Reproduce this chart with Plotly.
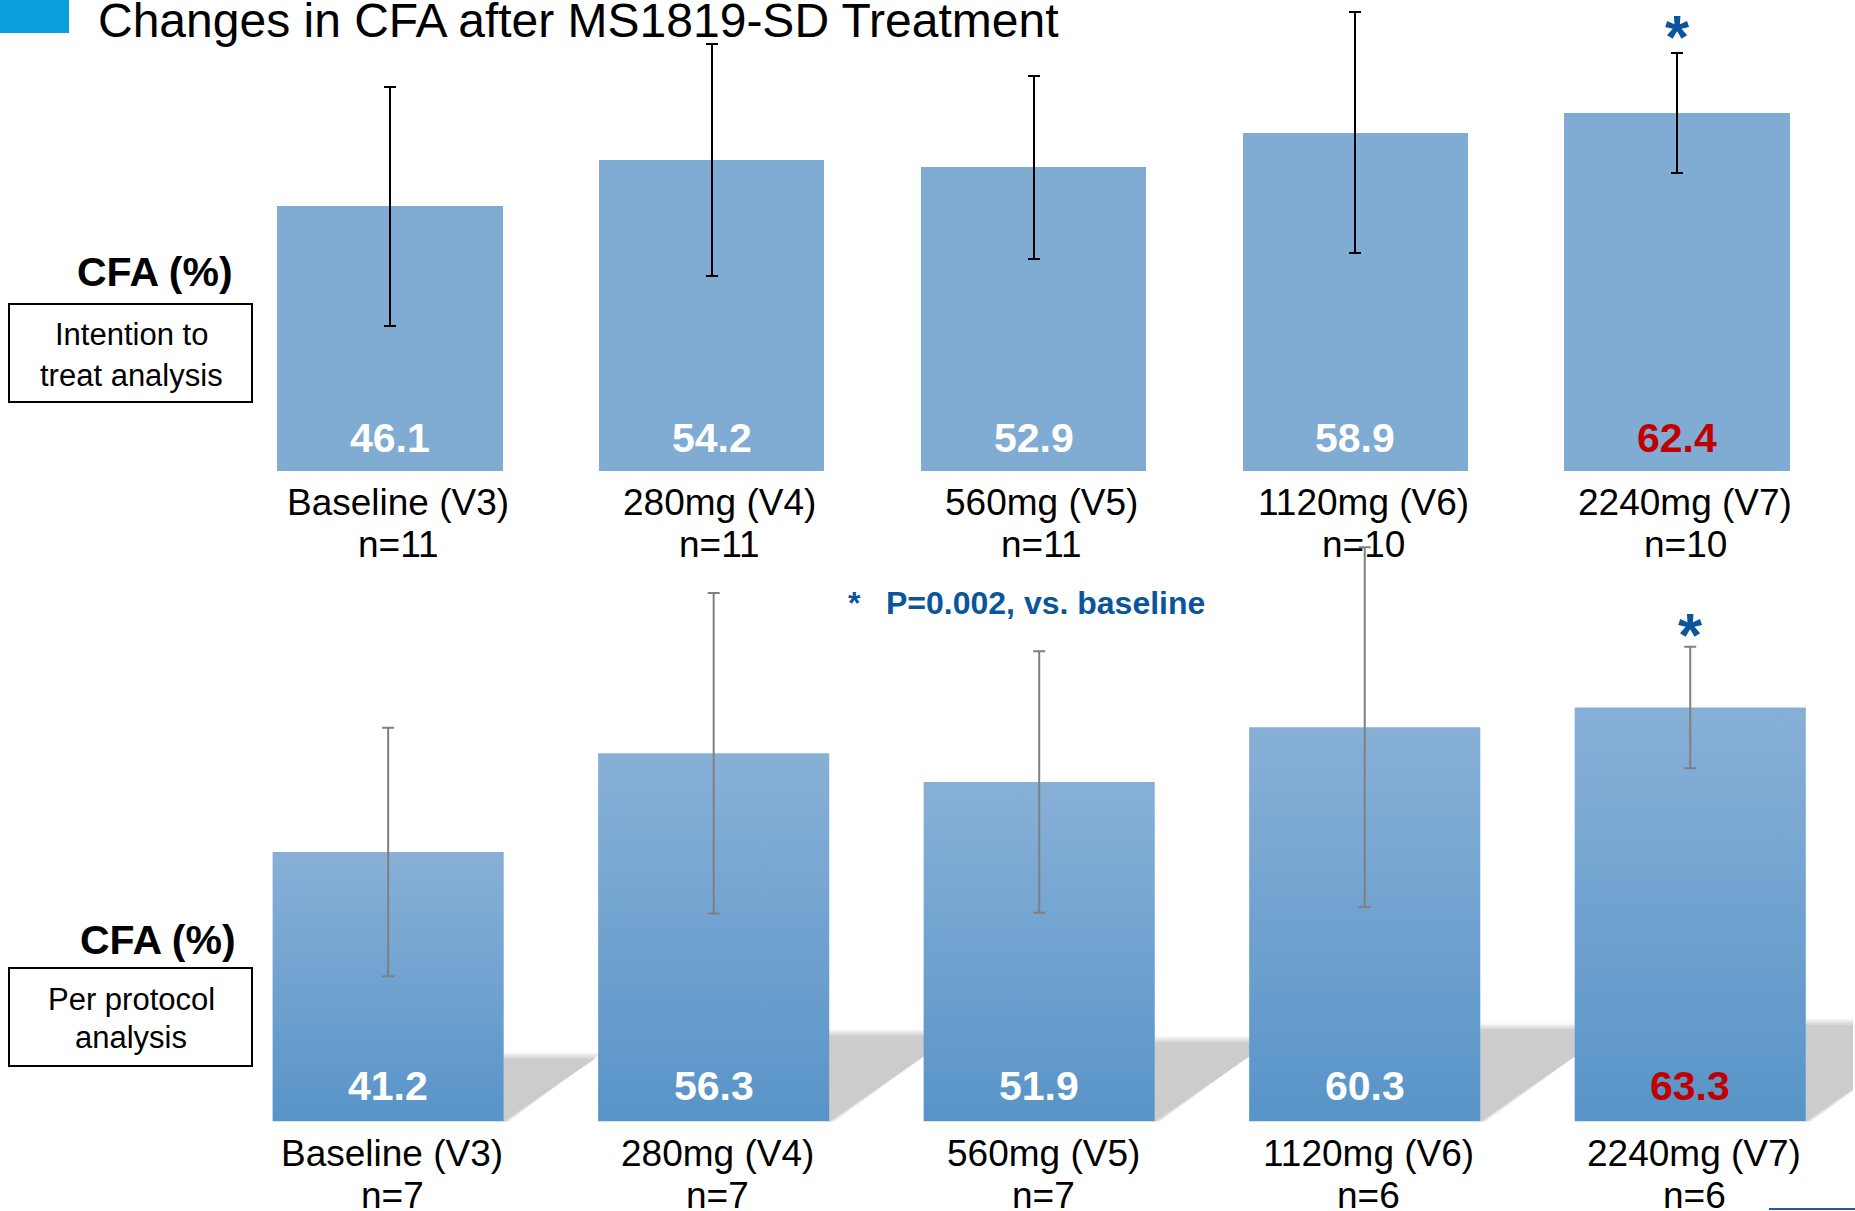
import plotly.graph_objects as go

# ---------------- data ----------------
categories = ["Baseline (V3)", "280mg (V4)", "560mg (V5)", "1120mg (V6)", "2240mg (V7)"]
itt_n = ["n=11", "n=11", "n=11", "n=10", "n=10"]
itt_mean = [46.1, 54.2, 52.9, 58.9, 62.4]
itt_sd = [20.8, 20.2, 15.9, 21.0, 10.5]
pp_n = ["n=7", "n=7", "n=7", "n=6", "n=6"]
pp_mean = [41.2, 56.3, 51.9, 60.3, 63.3]
pp_sd = [19.0, 24.5, 20.0, 27.5, 9.3]
significant = [False, False, False, False, True]
title_text = "Changes in CFA after MS1819-SD Treatment"
footnote_star = "*"
footnote_text = "P=0.002, vs. baseline"

# ---------------- style ----------------
W, H = 1855, 1211
FONT = "Liberation Sans, Arial, sans-serif"
BAR_TOP = "#80abd3"
GRAD_DARK = "#5894c8"
GRAD_LIGHT = "#88b0d7"
SIG_BLUE = "#0b559c"
RED = "#c00000"


def px(x):
    return x / W


def py(y):
    return 1 - y / H


xs = list(range(len(categories)))
fig = go.Figure()

# ---- top panel: intention to treat ----
BW1 = 0.70
fig.add_trace(go.Bar(
    x=xs, y=itt_mean, width=BW1, marker=dict(color=BAR_TOP, line=dict(width=0)),
    error_y=dict(type="data", array=itt_sd, visible=True, color="black", thickness=2, width=6),
    xaxis="x", yaxis="y", showlegend=False, hoverinfo="skip",
))

# ---- bottom panel: per protocol (gradient bars) ----
BW2 = 0.71
for i, v in zip(xs, pp_mean):
    fig.add_trace(go.Scatter(
        x=[i - BW2 / 2, i + BW2 / 2, i + BW2 / 2, i - BW2 / 2, i - BW2 / 2],
        y=[0, 0, v, v, 0], mode="lines", line=dict(width=0), fill="toself",
        fillgradient=dict(type="vertical", colorscale=[[0, GRAD_DARK], [1, GRAD_LIGHT]]),
        xaxis="x2", yaxis="y2", showlegend=False, hoverinfo="skip",
    ))
fig.add_trace(go.Scatter(
    x=xs, y=pp_mean, mode="markers", marker=dict(size=1, color="rgba(0,0,0,0)"),
    error_y=dict(type="data", array=pp_sd, visible=True, color="#808080", thickness=2, width=6),
    xaxis="x2", yaxis="y2", showlegend=False, hoverinfo="skip",
))

shapes = []
# soft cast shadows for bottom bars (derived from bar heights)
K_SH = 0.233
for i, v in zip(xs, pp_mean):
    xr = i + BW2 / 2
    h = K_SH * v
    d = 0.0068 * v
    layers = [(1.6, "rgba(205,205,205,0.18)"), (1.2, "rgba(205,205,205,0.25)"),
              (0.8, "rgba(205,205,205,0.35)"), (0.4, "rgba(205,205,205,0.5)"),
              (0.0, "rgba(204,204,204,1)")]
    for e, col in layers:
        top = h + e * 0.6
        base_shift = e * 0.012
        shapes.append(dict(
            type="path", xref="x2", yref="y2", layer="below",
            path=f"M {xr},{-e * 0.4} L {xr},{top} L {xr + d + base_shift},{top} Z",
            fillcolor=col, line=dict(width=0),
        ))

# title square
shapes.append(dict(type="rect", xref="paper", yref="paper", x0=0, x1=px(69), y0=py(33), y1=1,
                   fillcolor="#0a9fdc", line=dict(width=0)))
# left boxes
shapes.append(dict(type="rect", xref="paper", yref="paper", x0=px(9), x1=px(252), y0=py(402), y1=py(304),
                   fillcolor="rgba(0,0,0,0)", line=dict(color="black", width=2)))
shapes.append(dict(type="rect", xref="paper", yref="paper", x0=px(9), x1=px(252), y0=py(1066), y1=py(968),
                   fillcolor="rgba(0,0,0,0)", line=dict(color="black", width=2)))
# small line bottom-right
shapes.append(dict(type="line", xref="paper", yref="paper", x0=px(1769), x1=1, y0=py(1209), y1=py(1209),
                   line=dict(color="#1c5aa6", width=2)))

ann = []
ann.append(dict(text=title_text, xref="paper", yref="paper", x=px(96), y=py(20), xanchor="left",
                yanchor="middle", showarrow=False, font=dict(family=FONT, size=48, color="black")))

# left labels
ann.append(dict(text="<b>CFA (%)</b>", xref="paper", yref="paper", x=px(235), y=py(272), xanchor="right",
                yanchor="middle", showarrow=False, font=dict(family=FONT, size=41, color="black")))
ann.append(dict(text="Intention to", xref="paper", yref="paper", x=px(131), y=py(335), xanchor="center",
                yanchor="middle", showarrow=False, font=dict(family=FONT, size=31, color="black")))
ann.append(dict(text="treat analysis", xref="paper", yref="paper", x=px(131), y=py(375), xanchor="center",
                yanchor="middle", showarrow=False, font=dict(family=FONT, size=31, color="black")))
ann.append(dict(text="<b>CFA (%)</b>", xref="paper", yref="paper", x=px(238), y=py(940), xanchor="right",
                yanchor="middle", showarrow=False, font=dict(family=FONT, size=41, color="black")))
ann.append(dict(text="Per protocol", xref="paper", yref="paper", x=px(131), y=py(999), xanchor="center",
                yanchor="middle", showarrow=False, font=dict(family=FONT, size=31, color="black")))
ann.append(dict(text="analysis", xref="paper", yref="paper", x=px(131), y=py(1037), xanchor="center",
                yanchor="middle", showarrow=False, font=dict(family=FONT, size=31, color="black")))

# footnote
ann.append(dict(text=f"<b>{footnote_star}</b>", xref="paper", yref="paper", x=px(846), y=py(603),
                xanchor="left", yanchor="middle", showarrow=False, font=dict(family=FONT, size=32, color=SIG_BLUE)))
ann.append(dict(text=f"<b>{footnote_text}</b>", xref="paper", yref="paper", x=px(884), y=py(603),
                xanchor="left", yanchor="middle", showarrow=False, font=dict(family=FONT, size=32, color=SIG_BLUE)))

# per-bar labels
for panel, means, sds, ns, xa, ya, vshift, nshift1, nshift2, xsh, star_shift in [
    ("top", itt_mean, itt_sd, itt_n, "x", "y", 33, -31, -73, 8, 16),
    ("bot", pp_mean, pp_sd, pp_n, "x2", "y2", 36, -32, -74, 4, 12),
]:
    for i, (m, s, n, cat, sig) in enumerate(zip(means, sds, ns, categories, significant)):
        ann.append(dict(text=f"<b>{m:.1f}</b>", xref=xa, yref=ya, x=i, y=0, yshift=vshift,
                        xanchor="center", yanchor="middle", showarrow=False,
                        font=dict(family=FONT, size=41, color=RED if sig else "white")))
        ann.append(dict(text=cat, xref=xa, yref=ya, x=i, y=0, yshift=nshift1, xshift=xsh,
                        xanchor="center", yanchor="middle", showarrow=False,
                        font=dict(family=FONT, size=37, color="black")))
        ann.append(dict(text=n, xref=xa, yref=ya, x=i, y=0, yshift=nshift2, xshift=xsh,
                        xanchor="center", yanchor="middle", showarrow=False,
                        font=dict(family=FONT, size=37, color="black")))
        if sig:
            ann.append(dict(text="<b>*</b>", xref=xa, yref=ya, x=i, y=m + s, yshift=star_shift,
                            xanchor="center", yanchor="middle", showarrow=False,
                            font=dict(family=FONT, size=62, color=SIG_BLUE)))

ax_common = dict(visible=False, showgrid=False, zeroline=False, fixedrange=True)
fig.update_layout(
    width=W, height=H, margin=dict(l=0, r=0, t=0, b=0),
    paper_bgcolor="white", plot_bgcolor="rgba(0,0,0,0)",
    xaxis=dict(domain=[px(229.2), px(1838)], range=[-0.5, 4.5], **ax_common),
    yaxis=dict(domain=[py(471), 1], range=[0, 471 / 5.74], **ax_common),
    xaxis2=dict(domain=[px(225.4), px(1853)], range=[-0.5, 4.5], anchor="y2", **ax_common),
    yaxis2=dict(domain=[py(1121.5), py(1121.5 - 95 * 6.54)], range=[0, 95], anchor="x2", **ax_common),
    shapes=shapes, annotations=ann, bargap=0,
)

fig.write_html("out.html", config={"displayModeBar": False},
               post_script="document.body.style.margin='0px';")
